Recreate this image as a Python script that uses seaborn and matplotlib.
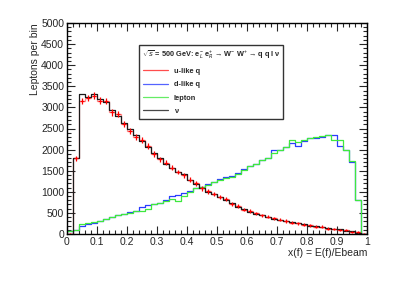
import numpy as np
import pandas as pd
import matplotlib
matplotlib.use("Agg")
import matplotlib.pyplot as plt
from matplotlib.ticker import MultipleLocator, FuncFormatter
import seaborn as sns

# ---- data (50 bins of width 0.02 in x(f) = E(f)/Ebeam) ----
bin_edges = [round(0.02 * i, 2) for i in range(51)]
u_like_q = [0, 1790, 3150, 3220, 3280, 3160, 3150, 2880, 2850, 2600,
            2450, 2300, 2220, 2080, 1900, 1770, 1690, 1570, 1470, 1390,
            1290, 1200, 1080, 1010, 950, 880, 830, 720, 660, 580,
            540, 490, 440, 410, 370, 340, 310, 270, 260, 220,
            210, 170, 170, 130, 120, 100, 90, 50, 40, 0]
d_like_q = [80, 85, 197, 237, 270, 316, 348, 400, 440, 480,
            510, 550, 630, 680, 700, 740, 800, 900, 930, 970,
            1020, 1080, 1120, 1180, 1240, 1300, 1340, 1370, 1440, 1530,
            1610, 1670, 1750, 1800, 1990, 2000, 2050, 2150, 2090, 2200,
            2270, 2280, 2310, 2350, 2350, 2090, 1990, 1710, 800, 0]
lepton = [80, 85, 230, 250, 280, 310, 350, 410, 445, 470,
          505, 540, 555, 600, 700, 740, 790, 840, 790, 890,
          1000, 1100, 1120, 1170, 1230, 1290, 1320, 1340, 1430, 1520,
          1610, 1670, 1750, 1790, 1910, 1990, 2050, 2230, 2180, 2220,
          2270, 2290, 2320, 2350, 2230, 2220, 1990, 1740, 810, 0]
neutrino = [0, 1810, 3310, 3250, 3310, 3190, 3130, 2950, 2800, 2640,
            2480, 2340, 2200, 2060, 1920, 1800, 1670, 1560, 1480, 1420,
            1270, 1180, 1100, 1000, 940, 870, 810, 740, 640, 600,
            530, 480, 450, 400, 360, 330, 300, 280, 250, 230,
            200, 180, 160, 140, 130, 110, 80, 60, 30, 0]
series_names = ["u-like q", "d-like q", "lepton", "ν"]
series_colors = ["#ff2020", "#2a3cff", "#3fe83f", "#1a1a1a"]
title_text = r"$\sqrt{s}$ = 500 GeV: e$^{-}_{L}$ e$^{+}_{R}$ → W$^{-}$ W$^{+}$ → q q l ν"

edges = np.array(bin_edges)
centers = 0.5 * (edges[:-1] + edges[1:])
frames = []
for name, vals in zip(series_names, [u_like_q, d_like_q, lepton, neutrino]):
    frames.append(pd.DataFrame({"x": centers, "w": np.array(vals, float), "series": name}))
df = pd.concat(frames, ignore_index=True)

sns.set_style("ticks")
plt.rcParams["font.family"] = ["Liberation Sans", "DejaVu Sans"]
plt.rcParams["mathtext.fontset"] = "custom"
plt.rcParams["mathtext.rm"] = "Liberation Sans"

fig = plt.figure(figsize=(3.99, 2.86), dpi=100)
ax = fig.add_axes([67 / 399, 52 / 286, 300 / 399, 211 / 286])

order = ["u-like q", "d-like q", "lepton", "ν"]
handles = []
for name in order:
    color = series_colors[series_names.index(name)]
    sub = df[df["series"] == name].reset_index(drop=True)
    alpha = 0.5 if name == "u-like q" else 1.0
    sns.histplot(x=sub["x"], weights=sub["w"], bins=bin_edges, element="step",
                 fill=False, color=color, linewidth=0.9, alpha=alpha, ax=ax)
    handles.append(plt.Line2D([], [], color=color, lw=0.9, alpha=0.8))

# error crosses for u-like q
red = df[df["series"] == "u-like q"]
ax.errorbar(red["x"], red["w"], yerr=np.sqrt(red["w"]) + 20, xerr=0.008,
            fmt="none", ecolor="#ff0000", elinewidth=0.9, capsize=0, zorder=3)

ax.set_xlim(0, 1)
ax.set_ylim(0, 5000)
ax.xaxis.set_major_locator(MultipleLocator(0.1))
ax.xaxis.set_minor_locator(MultipleLocator(0.02))
ax.yaxis.set_major_locator(MultipleLocator(500))
ax.yaxis.set_minor_locator(MultipleLocator(100))
ax.xaxis.set_major_formatter(FuncFormatter(lambda v, p: f"{v:g}"))
ax.tick_params(which="both", direction="in", top=True, right=True,
               labelsize=7.5, pad=2, width=0.8)
ax.tick_params(which="major", length=6)
ax.tick_params(which="minor", length=3)
for s in ax.spines.values():
    s.set_linewidth(1.0)
    s.set_color("black")

ax.set_xlabel("x(f) = E(f)/Ebeam", loc="right", fontsize=7.5, labelpad=1)
ax.set_ylabel("Leptons per bin", loc="top", fontsize=7.5, labelpad=1)

leg = ax.legend(handles, series_names, title=title_text,
                loc="upper left", bbox_to_anchor=(0.24, 0.54, 0.48, 0.356),
                mode="expand", borderaxespad=0, fontsize=5.3,
                title_fontsize=5.3, handlelength=3.4, handletextpad=0.8,
                labelspacing=0.85, borderpad=0.55, fancybox=False,
                frameon=True, alignment="center")
leg.get_frame().set_edgecolor("black")
leg.get_frame().set_linewidth(1.0)
leg.get_title().set_fontweight("bold")
for t in leg.get_texts():
    t.set_fontweight("bold")

fig.savefig("out.png", dpi=100)
